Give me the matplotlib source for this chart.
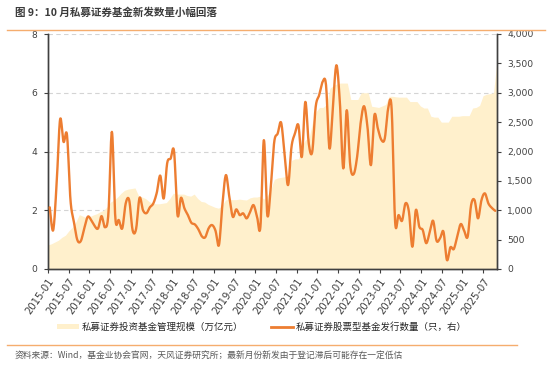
import numpy as np
import pandas as pd
import matplotlib
matplotlib.use("Agg")
import matplotlib.pyplot as plt
from matplotlib.patches import Patch
from matplotlib.lines import Line2D
from matplotlib.ticker import FuncFormatter

plt.rcParams['font.family'] = ['Noto Sans CJK SC', 'DejaVu Sans']

# ---------------- data ----------------
months = pd.date_range('2015-01-01', periods=130, freq='MS').strftime('%Y-%m').tolist()

# 私募证券投资基金管理规模（万亿元）, left axis
scale = [
    0.82, 0.86, 0.92, 0.98, 1.08, 1.15, 1.30, 1.42, 1.60, 1.85, 1.80, 1.75,
    1.78, 1.84, 1.88, 1.95, 2.00, 2.12, 2.28, 2.35, 2.45, 2.58, 2.68, 2.72,
    2.74, 2.76, 2.50, 2.45, 2.40, 2.30, 2.24, 2.22, 2.22, 2.24, 2.26, 2.40,
    2.58, 2.55, 2.55, 2.55, 2.50, 2.48, 2.55, 2.40, 2.30, 2.28, 2.20, 2.15,
    2.10, 2.07, 2.15, 2.35, 2.38, 2.36, 2.36, 2.38, 2.36, 2.35, 2.42, 2.45,
    2.45, 2.48, 2.38, 2.50, 2.70, 3.05, 3.10, 3.12, 3.14, 3.20, 3.70, 3.75,
    3.75, 4.20, 4.40, 4.45, 5.00, 5.35, 5.50, 5.50, 5.60, 6.15, 6.25, 6.30,
    6.33, 6.33, 6.33, 5.77, 5.77, 5.77, 6.00, 6.00, 6.00, 5.54, 5.52, 5.50,
    5.55, 5.60, 5.88, 5.88, 5.86, 5.85, 5.85, 5.85, 5.70, 5.70, 5.70, 5.55,
    5.48, 5.48, 5.20, 5.17, 5.17, 5.00, 5.00, 5.00, 5.20, 5.20, 5.20, 5.22,
    5.22, 5.22, 5.48, 5.50, 5.57, 5.90, 5.95, 5.97, 6.00, 7.10,
]

# 私募证券股票型基金发行数量（只，右）, right axis
issuance = [
    1050, 660, 1450, 2545, 2164, 2280, 1180, 800, 493, 476, 692, 889,
    833, 731, 692, 900, 710, 952, 2334, 862, 833, 692, 1117, 1173,
    660, 680, 1210, 1000, 950, 1050, 1117, 1300, 1590, 1200, 1800, 1880,
    2000, 918, 1212, 1032, 918, 787, 760, 680, 560, 539, 692, 748,
    651, 408, 1100, 1598, 1229, 889, 1015, 918, 947, 862, 970, 1088,
    900, 719, 2193, 918, 1400, 2164, 2307, 2490, 1950, 1428, 2079, 2307,
    2448, 1909, 2844, 2136, 1994, 2759, 2958, 3184, 3130, 2051, 2788, 3468,
    2844, 1712, 2703, 1768, 1615, 1909, 2477, 2771, 2419, 1768, 2618, 2392,
    2200, 2220, 2735, 2720, 804, 918, 821, 1117, 975, 379, 1003, 719,
    663, 440, 620, 821, 481, 521, 634, 153, 369, 340, 560, 765,
    650, 550, 1088, 1173, 862, 1173, 1287, 1117, 1040, 990,
]

tick_labels = ['2015-01', '2015-07', '2016-01', '2016-07', '2017-01', '2017-07',
               '2018-01', '2018-07', '2019-01', '2019-07', '2020-01', '2020-07',
               '2021-01', '2021-07', '2022-01', '2022-07', '2023-01', '2023-07',
               '2024-01', '2024-07', '2025-01', '2025-07']

left_ticks = [0, 2, 4, 6, 8]
right_ticks = [0, 500, 1000, 1500, 2000, 2500, 3000, 3500, 4000]

title = '图 9：10 月私募证券基金新发数量小幅回落'
legend_labels = ['私募证券投资基金管理规模（万亿元）', '私募证券股票型基金发行数量（只，右）']
source = '资料来源：Wind，基金业协会官网，天风证券研究所；最新月份新发由于登记滞后可能存在一定低估'

# ---------------- helpers ----------------
def catmull_rom(x, y, n=12):
    x = np.asarray(x, float)
    y = np.asarray(y, float)
    px = np.concatenate([[x[0]], x, [x[-1]]])
    py = np.concatenate([[y[0]], y, [y[-1]]])
    t = np.linspace(0, 1, n, endpoint=False)
    ox, oy = [], []
    for i in range(1, len(px) - 2):
        for arr, out in ((px, ox), (py, oy)):
            p0, p1, p2, p3 = arr[i - 1], arr[i], arr[i + 1], arr[i + 2]
            out.extend(0.5 * ((2 * p1) + (-p0 + p2) * t +
                              (2 * p0 - 5 * p1 + 4 * p2 - p3) * t ** 2 +
                              (-p0 + 3 * p1 - 3 * p2 + p3) * t ** 3))
    ox.append(x[-1]); oy.append(y[-1])
    return np.array(ox), np.array(oy)

# ---------------- figure ----------------
W, H = 550, 370
fig = plt.figure(figsize=(W / 100, H / 100), dpi=100)
L, R, T, B = 48, 497, 34, 269
ax = fig.add_axes([L / W, 1 - B / H, (R - L) / W, (B - T) / H])

n = len(months)
cat_x = np.arange(n)                       # category centres
area_x = np.linspace(-0.5, n - 0.5, n)     # area drawn edge to edge

ax.fill_between(area_x, 0, scale, color='#FFF0CC', lw=0, zorder=2)
ax.set_xlim(-0.5, n - 0.5)
ax.set_ylim(0, 8)
ax.set_yticks(left_ticks)
ax.set_axisbelow(True)
ax.yaxis.grid(True, ls=(0, (4, 3)), color='#D4D4D4', lw=0.8, zorder=0)

tick_pos = [months.index(t) - 0.5 for t in tick_labels]
ax.set_xticks(tick_pos)
ax.set_xticklabels(tick_labels, rotation=55, ha='right', va='top',
                   rotation_mode='anchor', fontsize=7.2, family='DejaVu Sans',
                   color='#404040')

ax2 = ax.twinx()
sx, sy = catmull_rom(cat_x, issuance)
ax2.plot(sx, sy, color='#ED7D31', lw=1.7, solid_capstyle='round', zorder=3)
ax2.set_ylim(0, 4000)
ax2.set_yticks(right_ticks)
ax2.yaxis.set_major_formatter(FuncFormatter(lambda v, p: f'{int(v):,}'))
ax2.set_xlim(-0.5, n - 0.5)

for a in (ax, ax2):
    a.spines['top'].set_visible(False)
    for s in ('left', 'right', 'bottom'):
        a.spines[s].set_color('#404040')
        a.spines[s].set_linewidth(1.0)
    a.tick_params(axis='both', length=3, width=0.8, color='#404040',
                  labelcolor='#404040')
    a.tick_params(axis='y', pad=4.5)
for lbl in ax.get_yticklabels() + ax2.get_yticklabels():
    lbl.set_family('DejaVu Sans')
    lbl.set_fontsize(6.6)
ax.tick_params(axis='x', pad=2)

# title, rules, source
fig.text(15 / W, 1 - 12.5 / H, title, fontsize=7.6, fontweight='bold',
         color='#3B3B3B', va='center', ha='left')
fig.add_artist(Line2D([7 / W, 545 / W], [1 - 30 / H] * 2, color='#F5AD6E', lw=1.0))
fig.add_artist(Line2D([7 / W, 517 / W], [1 - 345 / H] * 2, color='#F5AD6E', lw=1.0))
fig.text(15 / W, 1 - 355.5 / H, source, fontsize=6.3, color='#595959',
         va='center', ha='left')

handles = [Patch(facecolor='#FFF0CC', edgecolor='none'),
           Line2D([], [], color='#ED7D31', lw=2)]
fig.legend(handles, legend_labels, loc='center', bbox_to_anchor=(262 / W, 1 - 327 / H),
           ncol=2, frameon=False, fontsize=6.8, handlelength=2.3, handleheight=0.55,
           handletextpad=0.25, columnspacing=3.0, labelcolor='#262626')

fig.savefig('out.png', dpi=100)
